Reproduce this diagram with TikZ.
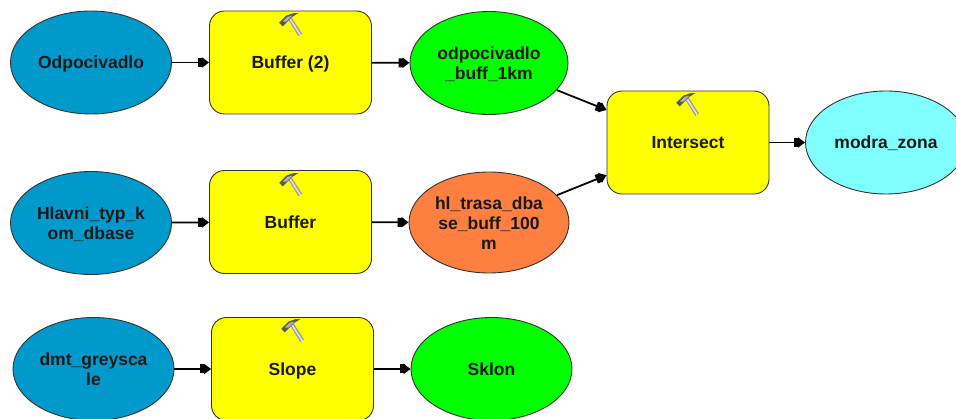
\documentclass[tikz,border=0pt]{standalone}
\usepackage{fontspec}
\setmainfont{Liberation Sans}
\usetikzlibrary{shapes.geometric,arrows.meta}
\definecolor{dsblue}{HTML}{0099CC}
\definecolor{dsgreen}{HTML}{00FF00}
\definecolor{dsorange}{HTML}{FF7F40}
\definecolor{dscyan}{HTML}{80FFFF}
\definecolor{dsyellow}{HTML}{FFFF00}
\tikzset{
  x=1pt,y=-1pt,
  every node/.style={font=\fontsize{17.5}{20}\selectfont\bfseries,text=black!90,
    execute at begin node={\rule{0pt}{16.5pt}},execute at end node={\rule[-4pt]{0pt}{0pt}}},
  multiline/.style={execute at begin node={\rule{0pt}{#1}}},
  dataset/.style={ellipse,draw=black!80,line width=0.9pt,minimum width=161pt,minimum height=103pt,inner sep=0pt,align=center},
  toolbox/.style={rectangle,rounded corners=15pt,draw=black!80,fill=dsyellow,line width=0.9pt,minimum width=162pt,minimum height=103pt,inner sep=0pt,align=center},
  flow/.style={draw=black,line width=1.8pt,-{Square[length=5pt,width=9pt,sep=-1pt]Triangle[length=7pt,width=10pt]}},
  pics/hammer/.style={code={
    \begin{scope}[scale=1.2]
    \fill[black!40] (-2,-9.5) -- (7,5) -- (10,3) -- (1,-11) -- cycle;
    \fill[black!12] (-1,-9.5) -- (8,4.5) -- (9,3.5) -- (0,-10.5) -- cycle;
    \fill[black!65] (-9,-6) -- (-3,-12) -- (3,-14) -- (7,-14) -- (2,-11) -- (-1,-8) -- (-6,-3) -- cycle;
    \fill[black!30] (-6,-7) -- (-2,-11) -- (2,-12) -- (-3,-7) -- cycle;
    \end{scope}
  }}
}
\begin{document}
\begin{tikzpicture}
\useasboundingbox (0,0) rectangle (956,419);
\clip (0,0) rectangle (956,419);
\node[dataset,fill=dsblue] (odp) at (91,62.5) {Odpocivadlo};
\node[toolbox] (buf2) at (290.5,62.5) {Buffer (2)};
\node[dataset,multiline=37pt,fill=dsgreen,minimum width=158pt] (odpb) at (489,63) {odpocivadlo\\\_buff\_1km};
\node[toolbox] (int) at (688,142.5) {Intersect};
\node[dataset,fill=dscyan] (mod) at (886,142.5) {modra\_zona};
\node[dataset,multiline=37pt,fill=dsblue] (hla) at (91,223) {Hlavni\_typ\_k\\om\_dbase};
\node[toolbox] (buf) at (290.5,222) {Buffer};
\node[dataset,multiline=58pt,fill=dsorange,minimum width=160pt,minimum height=101pt] (hl) at (489,222.5) {hl\_trasa\_dba\\se\_buff\_100\\m};
\node[dataset,multiline=37pt,fill=dsblue] (dmt) at (93.5,369) {dmt\_greysca\\le};
\node[toolbox] (slo) at (292.5,369) {Slope};
\node[dataset,fill=dsgreen] (skl) at (491.5,369) {Sklon};
\pic at (290,30) {hammer};
\pic at (290,190) {hammer};
\pic at (292,336) {hammer};
\pic at (687,110) {hammer};
\draw[flow] (odp) -- (buf2);
\draw[flow] (buf2) -- (odpb);
\draw[flow] (odpb) -- (int);
\draw[flow] (hla) -- (buf);
\draw[flow] (buf) -- (hl);
\draw[flow] (hl) -- (int);
\draw[flow] (int) -- (mod);
\draw[flow] (dmt) -- (slo);
\draw[flow] (slo) -- (skl);
\end{tikzpicture}
\end{document}
